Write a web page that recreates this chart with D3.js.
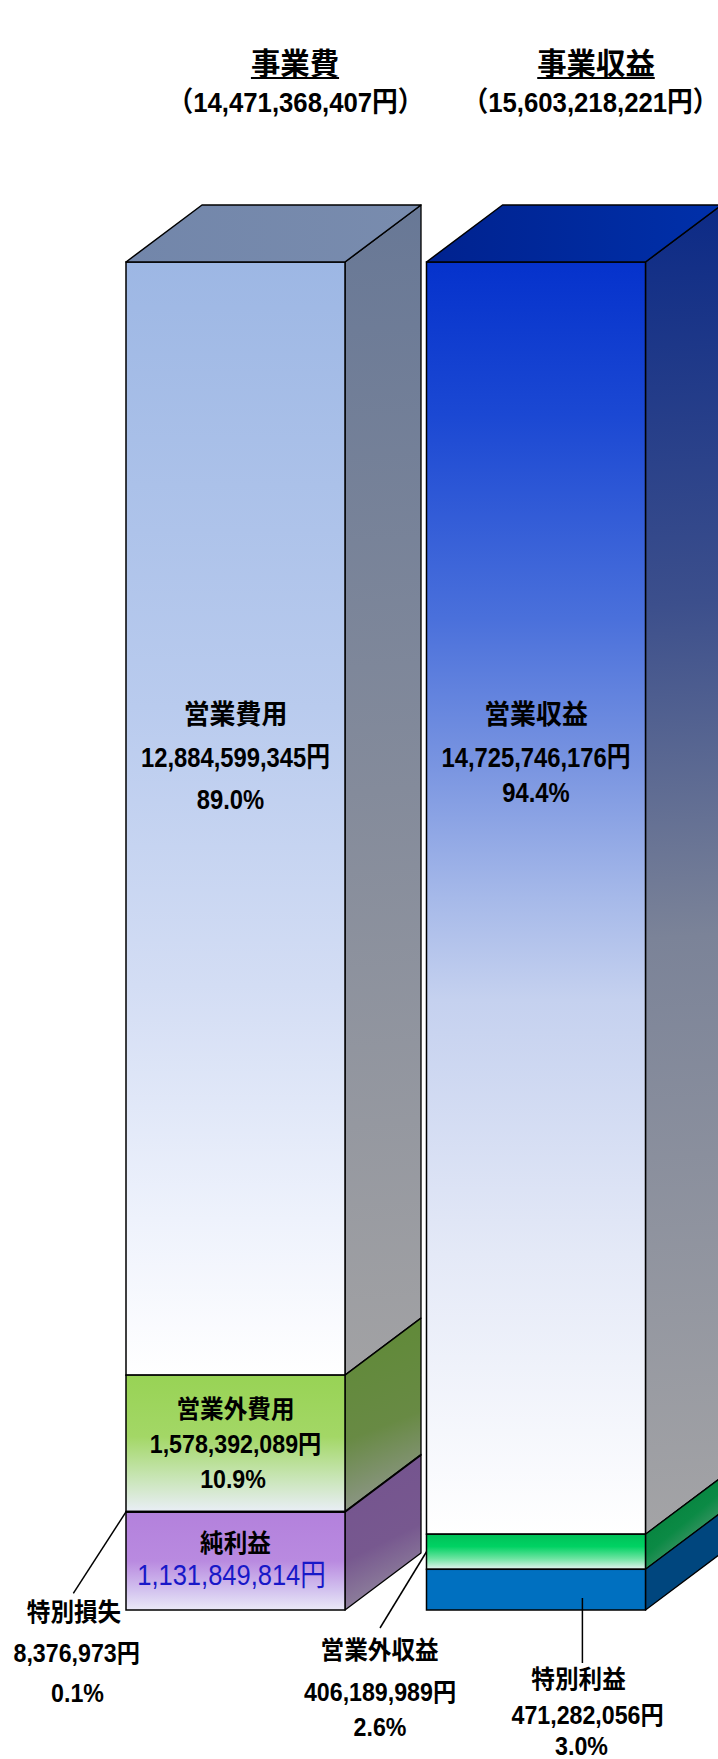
<!DOCTYPE html>
<html>
<head>
<meta charset="utf-8">
<script src="https://cdn.jsdelivr.net/npm/d3@7"></script>
<style>
  html, body { margin: 0; padding: 0; background: #ffffff; }
  svg { display: block; }
  text { font-family: 'Liberation Sans', 'Noto Sans CJK JP', sans-serif; }
</style>
</head>
<body>
<svg id="chart" width="718" height="1759"></svg>
<script>
// ---- data -------------------------------------------------------------
const columns = ["事業費", "事業収益"];
const columnTotals = [14471368407, 15603218221];

const expenseItems  = ["営業費用", "営業外費用", "特別損失", "純利益"];
const expenseValues = [12884599345, 1578392089, 8376973, 1131849814];
const expenseShares = ["89.0%", "10.9%", "0.1%", null];

const revenueItems  = ["営業収益", "営業外収益", "特別利益"];
const revenueValues = [14725746176, 406189989, 471282056];
const revenueShares = ["94.4%", "2.6%", "3.0%"];

// ---- layout -----------------------------------------------------------
const W = 718, H = 1759;
const DX = 76, DY = -57;           // depth offset of the 3D boxes
const fmt = d3.format(",");

const stackTotal = Math.max(d3.sum(expenseValues), d3.sum(revenueValues));
const y = d3.scaleLinear().domain([0, stackTotal]).range([1610, 262]);
const x = d3.scaleBand().domain(columns).range([126, 645.5])
  .paddingInner(0.2712).paddingOuter(0);

const svg = d3.select("#chart");
const defs = svg.append("defs");

function linGrad(id, stops, attrs) {
  const g = defs.append("linearGradient").attr("id", id);
  Object.entries(attrs).forEach(([k, v]) => g.attr(k, v));
  stops.forEach(([o, c]) => g.append("stop").attr("offset", o).attr("stop-color", c));
  return `url(#${id})`;
}

// colour ramps for the front and side faces of every block
const expenseLook = [
  { front: [[0, "#9db7e4"], [0.4, "#b9cbee"], [0.65, "#d3ddf4"], [0.86, "#eef2fc"], [1, "#ffffff"]],
    side:  [[0, "#687896"], [0.5, "#848b9b"], [1, "#a2a2a4"]] },
  { front: [[0, "#98d355"], [0.45, "#a3d766"], [0.75, "#c8e5b5"], [1, "#e9eef6"]],
    side:  [[0, "#5f8a36"], [0.55, "#688a44"], [1, "#9a9a9f"]] },
  { front: [[0, "#d6dcea"], [1, "#d6dcea"]],
    side:  [[0, "#8a8f9c"], [1, "#8a8f9c"]] },
  { front: [[0, "#b381dc"], [0.5, "#b98ae0"], [0.8, "#d3c3ef"], [1, "#eae9f7"]],
    side:  [[0, "#74538f"], [0.55, "#77588f"], [1, "#9d9ba4"]] }
];
const revenueLook = [
  { front: [[0, "#0532cc"], [0.12, "#1b48d3"], [0.28, "#4a70db"], [0.4, "#7b96e1"], [0.5, "#a6b9e9"],
            [0.58, "#c5d1ef"], [0.78, "#e4e9f7"], [1, "#ffffff"]],
    side:  [[0, "#0c2a86"], [0.3, "#3c4f8c"], [0.55, "#7b8398"], [1, "#a4a4a6"]] },
  { front: [[0, "#00c058"], [0.35, "#00d263"], [0.7, "#6fe4a2"], [1, "#e6f3f2"]],
    side:  [[0, "#007a35"], [0.5, "#0b8a45"], [1, "#93a59c"]] },
  { front: [[0, "#0070c0"], [1, "#0070c0"]],
    side:  [[0, "#00467e"], [1, "#00467e"]] }
];
const topLook = [
  [[0, "#7286aa"], [1, "#798cae"]],
  [[0, "#00228f"], [1, "#0030aa"]]
];

function stackSegments(names, values) {
  let acc = d3.sum(values);
  return names.map((name, i) => {
    const hi = acc;
    acc -= values[i];
    return { name, value: values[i], lo: acc, hi };
  });
}

const stacks = [
  { key: columns[0], segs: stackSegments(expenseItems, expenseValues), look: expenseLook },
  { key: columns[1], segs: stackSegments(revenueItems, revenueValues), look: revenueLook }
];

// ---- 3D stacked boxes -------------------------------------------------
const bars = svg.append("g");
stacks.forEach((col, ci) => {
  const g = bars.append("g");
  const x0 = x(col.key), bw = x.bandwidth(), x1 = x0 + bw;

  col.segs.forEach((s, si) => {
    const yt = y(s.hi), yb = y(s.lo);
    const look = col.look[si];
    const frontFill = linGrad(`f${ci}_${si}`, look.front, { x1: 0, y1: 0, x2: 0, y2: 1 });
    const sideFill = linGrad(`s${ci}_${si}`, look.side, {
      gradientUnits: "userSpaceOnUse", x1: x1, y1: yt + DY, x2: x1 + DX, y2: yb
    });
    g.append("polygon")
      .attr("points", [[x1, yt], [x1 + DX, yt + DY], [x1 + DX, yb + DY], [x1, yb]].join(" "))
      .attr("fill", sideFill).attr("stroke", "#000").attr("stroke-width", 1.3)
      .attr("stroke-linejoin", "round");
    g.append("rect")
      .attr("x", x0).attr("y", yt).attr("width", bw).attr("height", Math.max(0.7, yb - yt))
      .attr("fill", frontFill).attr("stroke", "#000").attr("stroke-width", 1.5);
  });

  const yTop = y(col.segs[0].hi);
  const topFill = linGrad(`t${ci}`, topLook[ci], { x1: 0, y1: 0, x2: 1, y2: 0 });
  g.append("polygon")
    .attr("points", [[x0, yTop], [x0 + DX, yTop + DY], [x1 + DX, yTop + DY], [x1, yTop]].join(" "))
    .attr("fill", topFill).attr("stroke", "#000").attr("stroke-width", 1.5)
    .attr("stroke-linejoin", "round");
});

// ---- text helpers -----------------------------------------------------
const texts = svg.append("g");
function label(txt, cx, cy, size, k, opt = {}) {
  return texts.append("text")
    .attr("transform", `translate(${cx},${cy}) scale(${k},1)`)
    .attr("text-anchor", "middle")
    .attr("dy", "0.36em")
    .style("font-size", size + "px")
    .style("font-weight", opt.weight || 700)
    .style("fill", opt.color || "#000")
    .text(txt);
}

// column titles
const titleY = [63.5, 63.5];
const titleX = [295, 596];
const subX = [295.5, 590.5];
columns.forEach((c, i) => {
  const t = label(c, titleX[i], titleY[i], 30, 0.98);
  const w = t.node().getComputedTextLength() * 0.98;
  texts.append("line")
    .attr("x1", titleX[i] - w / 2).attr("x2", titleX[i] + w / 2)
    .attr("y1", 78).attr("y2", 78)
    .attr("stroke", "#000").attr("stroke-width", 2);
  label(`（${fmt(columnTotals[i])}円）`, subX[i], 102, 28, 0.92);
});

// labels inside / below the boxes
const cxL = x(columns[0]) + x.bandwidth() / 2;
const cxR = x(columns[1]) + x.bandwidth() / 2;

// 営業費用
label(expenseItems[0], cxL, 714, 27, 0.96);
label(fmt(expenseValues[0]) + "円", cxL, 757, 28, 0.85);
label(expenseShares[0], cxL - 5, 798.5, 28, 0.85);
// 営業収益
label(revenueItems[0], cxR, 714, 27, 0.96);
label(fmt(revenueValues[0]) + "円", cxR, 757, 28, 0.85);
label(revenueShares[0], cxR, 791.5, 28, 0.85);
// 営業外費用
label(expenseItems[1], cxL, 1409, 25, 0.945);
label(fmt(expenseValues[1]) + "円", cxL, 1444, 25.5, 0.91);
label(expenseShares[1], cxL - 2.5, 1479, 25.5, 0.91);
// 純利益
label(expenseItems[3], cxL, 1543, 25, 0.945);
label(fmt(expenseValues[3]) + "円", cxL - 4, 1574, 30, 0.85, { weight: 400, color: "#1818c8" });

// 特別損失 (callout)
label(expenseItems[2], 74, 1612, 25, 0.945);
label(fmt(expenseValues[2]) + "円", 76.7, 1653, 25.5, 0.91);
label(expenseShares[2], 77.5, 1693, 25.5, 0.91);
// 営業外収益 (callout)
label(revenueItems[1], 379.6, 1650, 25, 0.945);
label(fmt(revenueValues[1]) + "円", 380, 1692, 25.5, 0.91);
label(revenueShares[1], 380, 1727, 25.5, 0.91);
// 特別利益 (callout)
label(revenueItems[2], 578.6, 1679, 25, 0.945);
label(fmt(revenueValues[2]) + "円", 587.6, 1715, 25.5, 0.91);
label(revenueShares[2], 581.5, 1745.5, 25.5, 0.91);

// leader lines for the thin blocks
const segMid = (col, i) => { const s = stacks[col].segs[i]; return y((s.lo + s.hi) / 2); };
const leaders = [
  [[x(columns[0]), segMid(0, 2)], [73.3, 1593.3]],
  [[x(columns[1]), segMid(1, 1)], [380, 1628]],
  [[582.4, y(stacks[1].segs[2].lo) - 12], [582.4, 1663]]
];
svg.append("g").selectAll("line").data(leaders).join("line")
  .attr("x1", d => d[0][0]).attr("y1", d => d[0][1])
  .attr("x2", d => d[1][0]).attr("y2", d => d[1][1])
  .attr("stroke", "#000").attr("stroke-width", 1.5);
</script>
</body>
</html>
